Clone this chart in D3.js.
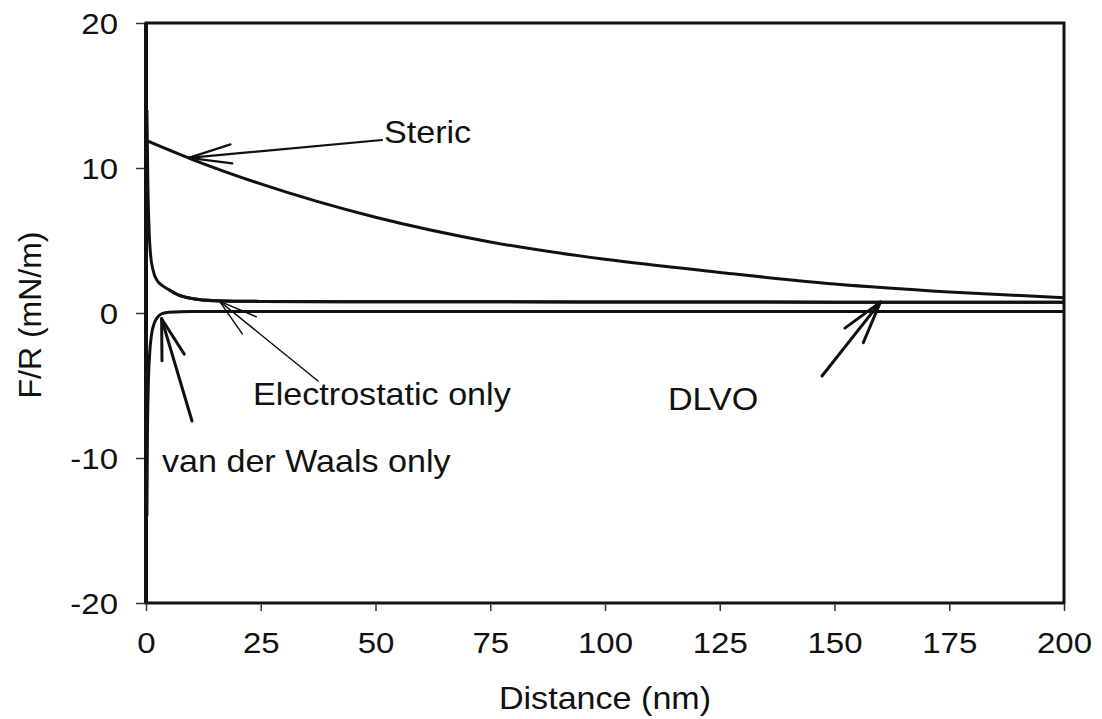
<!DOCTYPE html>
<html>
<head>
<meta charset="utf-8">
<script src="https://cdn.jsdelivr.net/npm/d3@7"></script>
<style>
  html, body { margin: 0; padding: 0; background: #fff; }
  svg { display: block; }
  text { font-family: "Liberation Sans", Arial, sans-serif; fill: #111; }
</style>
</head>
<body>
<svg id="chart" width="1102" height="719"></svg>
<script>
// Interaction forces between surfaces, F/R versus separation distance
const xTicks = [0, 25, 50, 75, 100, 125, 150, 175, 200];
const yTicks = [-20, -10, 0, 10, 20];

const stericX = [0, 10, 25, 50, 75, 100, 125, 150, 175, 200];
const stericY = [11.9, 10.6, 8.9, 6.6, 4.9, 3.7, 2.8, 2.0, 1.45, 1.05];

const elecX = [0.2, 0.4, 0.7, 1, 1.5, 2.5, 3.5, 5, 7, 10, 15, 25, 50, 100, 150, 200];
const elecY = [14, 9, 5.5, 4.0, 3.0, 2.2, 1.9, 1.6, 1.25, 1.0, 0.85, 0.8, 0.78, 0.76, 0.75, 0.75];

const vdwX = [0.2, 0.3, 0.5, 0.8, 1.2, 1.8, 2.5, 3.5, 5, 10, 50, 100, 200];
const vdwY = [-14, -9, -5, -2.8, -1.5, -0.7, -0.3, -0.05, 0.05, 0.1, 0.1, 0.1, 0.1];

const dlvoX = [5, 7, 10, 15, 25, 50, 100, 150, 200];
const dlvoY = [1.6, 1.25, 1.0, 0.85, 0.8, 0.78, 0.76, 0.75, 0.75];

const labels = ["Steric", "Electrostatic only", "van der Waals only", "DLVO"];

const svg = d3.select("#chart");
const plotL = 146, plotR = 1064, plotT = 23, plotB = 603;
const x = d3.scaleLinear().domain([0, 200]).range([plotL, plotR]);
const y = d3.scaleLinear().domain([-20, 20]).range([plotB, plotT]);
const SX = 1.1; // horizontal glyph stretch
const fmt = d => String(d);

// frame
svg.append("rect")
  .attr("x", plotL).attr("y", plotT)
  .attr("width", plotR - plotL).attr("height", plotB - plotT)
  .attr("fill", "none").attr("stroke", "#111").attr("stroke-width", 3);

// axes
const xAxis = svg.append("g")
  .attr("transform", `translate(0,${plotB})`)
  .call(d3.axisBottom(x).tickValues(xTicks).tickSize(8).tickPadding(0).tickFormat(fmt));
xAxis.select(".domain").remove();
xAxis.selectAll("line").attr("stroke", "#333").attr("stroke-width", 1.5);
xAxis.selectAll("text")
  .attr("font-size", 30).attr("y", 0).attr("dy", 0)
  .attr("transform", `translate(0,50) scale(${SX},1)`);

const yAxis = svg.append("g")
  .attr("transform", `translate(${plotL},0)`)
  .call(d3.axisLeft(y).tickValues(yTicks).tickSize(10).tickFormat(fmt));
yAxis.select(".domain").remove();
yAxis.selectAll("line").attr("stroke", "#333").attr("stroke-width", 1.5);
yAxis.selectAll("text")
  .attr("font-size", 30).attr("x", 0).attr("dy", "0.36em")
  .attr("transform", `translate(-28,0) scale(${SX},1)`);

// axis titles
svg.append("text")
  .attr("transform", `translate(${(plotL + plotR) / 2},709) scale(${SX},1)`)
  .attr("text-anchor", "middle").attr("font-size", 31)
  .text("Distance (nm)");
svg.append("text")
  .attr("transform", `translate(41,${(plotT + plotB) / 2 + 2}) rotate(-90)`)
  .attr("text-anchor", "middle").attr("font-size", 32)
  .text("F/R (mN/m)");

// curves
const line = d3.line().x(d => x(d[0])).y(d => y(d[1])).curve(d3.curveMonotoneX);
svg.append("clipPath").attr("id", "plot")
  .append("rect").attr("x", plotL).attr("y", plotT).attr("width", plotR - plotL).attr("height", plotB - plotT);
const curves = svg.append("g").attr("clip-path", "url(#plot)");
[[stericX, stericY], [elecX, elecY], [vdwX, vdwY], [dlvoX, dlvoY]].forEach(([xs, ys]) => {
  curves.append("path")
    .datum(xs.map((v, i) => [v, ys[i]]))
    .attr("d", line)
    .attr("fill", "none").attr("stroke", "#111").attr("stroke-width", 3)
    .attr("stroke-linejoin", "round");
});

// left axis line drawn heavier
svg.append("line")
  .attr("x1", plotL).attr("x2", plotL).attr("y1", plotT).attr("y2", plotB)
  .attr("stroke", "#111").attr("stroke-width", 4);

// annotation arrows: open two-barb head at the tip
function arrow(tail, tip, barbLen, spread, width) {
  const g = svg.append("g").attr("stroke", "#111").attr("stroke-width", width)
    .attr("fill", "none").attr("stroke-linecap", "round");
  g.append("line").attr("x1", tail[0]).attr("y1", tail[1]).attr("x2", tip[0]).attr("y2", tip[1]);
  const ang = Math.atan2(tail[1] - tip[1], tail[0] - tip[0]);
  [-spread, spread].forEach(s => {
    g.append("line")
      .attr("x1", tip[0]).attr("y1", tip[1])
      .attr("x2", tip[0] + barbLen * Math.cos(ang + s))
      .attr("y2", tip[1] + barbLen * Math.sin(ang + s));
  });
}

// Steric
arrow([382, 140], [x(9.3), y(10.7)], 44, 0.22, 2.2);
// Electrostatic only
arrow([318, 381], [x(16), y(0.82)], 40, 0.28, 1.5);
// van der Waals only
arrow([192, 421], [x(3.4), y(-0.4)], 42, 0.28, 3);
// DLVO
arrow([822, 376], [x(160), y(0.75)], 44, 0.27, 3);

function note(txt, px, py) {
  svg.append("text")
    .attr("transform", `translate(${px},${py}) scale(${SX},1)`)
    .attr("font-size", 31)
    .text(txt);
}
note(labels[0], 384, 143);
note(labels[1], 253, 405);
note(labels[2], 162, 472);
note(labels[3], 668, 410);
</script>
</body>
</html>
